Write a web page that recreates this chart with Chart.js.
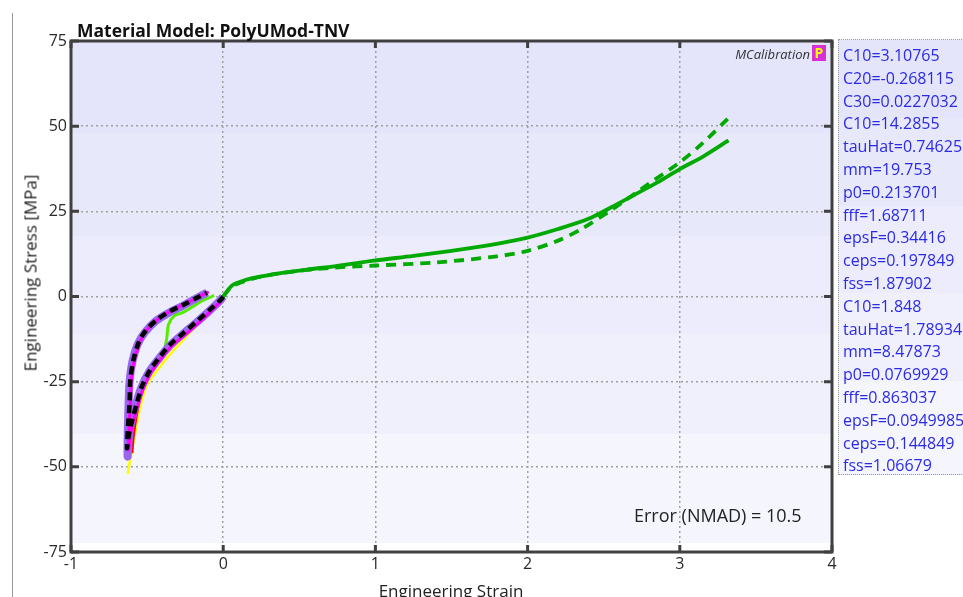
<!DOCTYPE html>
<html><head><meta charset="utf-8">
<script src="https://cdn.jsdelivr.net/npm/chart.js@4.4.0/dist/chart.umd.min.js"></script>
<style>
html,body{margin:0;padding:0;background:#fff;overflow:hidden;}
#wrap{position:relative;width:963px;height:597px;font-family:"Open Sans",sans-serif;}
canvas{position:absolute;left:0;top:0;}
.txt{position:absolute;white-space:nowrap;}
#vline{position:absolute;left:12px;top:13px;width:1px;height:584px;background:#999;}
#title{left:77px;top:18px;font-weight:bold;font-size:17.5px;color:#111;}
#ytitle{left:30px;top:273px;font-size:17px;color:#222;transform:translate(-50%,-50%) rotate(-90deg);}
#xtitle{left:451px;top:579px;font-size:17px;color:#222;transform:translateX(-50%);}
#err{left:634px;top:503px;font-size:18px;color:#222;}
#logo{right:153px;top:45px;font-size:13px;font-style:italic;color:#333;}
#pbox{position:absolute;left:812px;top:45px;width:14px;height:16px;background:#d630d6;color:#ffff00;font-weight:bold;font-size:14px;line-height:16px;text-align:center;font-family:"Open Sans",sans-serif;}
#params{position:absolute;left:838px;top:39px;width:130px;height:436px;box-sizing:border-box;padding-top:4px;border-left:1px dotted #999;border-top:1px dotted #999;border-bottom:1px dotted #999;
background:linear-gradient(#e4e4fa 0px,#e4e4fa 78px,#e8e8fb 78px,#e8e8fb 166px,#ececfc 166px,#ececfc 253px,#f0f0fd 253px,#f0f0fd 341px,#f5f5fe 341px,#f5f5fe 436px);}
#params div{font-size:16px;color:#2a2ae6;height:22.8px;line-height:22.8px;padding-left:4px;}
</style></head>
<body><div id="wrap">
<canvas id="c" width="963" height="597"></canvas>
<div id="vline"></div>
<div class="txt" id="title">Material Model: PolyUMod-TNV</div>
<div class="txt" id="ytitle">Engineering Stress [MPa]</div>
<div class="txt" id="xtitle">Engineering Strain</div>
<div class="txt" id="err">Error (NMAD) = 10.5</div>
<div class="txt" id="logo">MCalibration</div>
<div id="pbox">P</div>
<div id="params"></div>
</div>
<script>
// ---- data ----
const paramLabels = ["C10=3.10765","C20=-0.268115","C30=0.0227032","C10=14.2855","tauHat=0.74625","mm=19.753","p0=0.213701","fff=1.68711","epsF=0.34416","ceps=0.197849","fss=1.87902","C10=1.848","tauHat=1.78934","mm=8.47873","p0=0.0769929","fff=0.863037","epsF=0.0949985","ceps=0.144849","fss=1.06679"];
const xTicks = [-1, 0, 1, 2, 3, 4];
const yTicks = [-75, -50, -25, 0, 25, 50, 75];

const tensionExpStrain = [0, 0.06, 0.15, 0.25, 0.4, 0.55, 0.75, 1.0, 1.25, 1.5, 1.75, 2.0, 2.2, 2.4, 2.55, 2.7, 2.85, 3.0, 3.15, 3.32];
const tensionExpStress = [0, 3.3, 4.9, 5.9, 7.0, 7.9, 9.0, 10.6, 11.9, 13.4, 15.1, 17.3, 19.8, 22.8, 26.2, 29.8, 33.4, 37.4, 41.0, 45.8];
const tensionModelStrain = [0, 0.06, 0.2, 0.4, 0.7, 1.0, 1.4, 1.8, 2.0, 2.2, 2.35, 2.55, 2.8, 3.0, 3.15, 3.32];
const tensionModelStress = [0, 3.0, 5.3, 7.0, 8.4, 9.1, 10.0, 11.8, 13.4, 16.4, 19.7, 25.4, 33.2, 39.4, 45.0, 52.4];

const cycleExpStrain = [0, -0.02, -0.09, -0.18, -0.27, -0.355, -0.42, -0.485, -0.54, -0.574, -0.605, -0.62, -0.628, -0.627, -0.622, -0.615, -0.596, -0.562, -0.516, -0.44, -0.35, -0.26, -0.175, -0.105];
const cycleExpStress = [0, -1.2, -4.2, -7.8, -11.2, -14.6, -18.1, -22.0, -26.9, -31.8, -37.2, -41.6, -47, -40, -32, -25, -19, -14, -10.6, -7.1, -4.6, -2.6, -0.5, 1.2];
const cycleExp2Strain = [0, -0.01, -0.08, -0.165, -0.25, -0.34, -0.405, -0.47, -0.525, -0.56, -0.593, -0.613, -0.622, -0.618, -0.61, -0.603, -0.582, -0.548, -0.505, -0.428, -0.34, -0.252, -0.165, -0.095];
const cycleExp2Stress = [0, -1.0, -4.2, -7.8, -11.2, -14.6, -18.1, -22.0, -26.9, -31.8, -37.2, -41.6, -45, -38, -31, -24, -18.3, -13.4, -10.0, -6.6, -4.1, -2.2, -0.2, 1.4];
const cycleModelStrain = [0, -0.01, -0.085, -0.173, -0.26, -0.348, -0.414, -0.479, -0.534, -0.567, -0.6, -0.622, -0.632, -0.625, -0.615, -0.61, -0.589, -0.556, -0.512, -0.435, -0.348, -0.26, -0.173, -0.107];
const cycleModelStress = [0, -0.7, -3.8, -7.3, -10.7, -14.1, -17.6, -21.5, -26.4, -31.3, -36.7, -41.1, -44.5, -38, -31.3, -24.4, -18.5, -13.6, -10.2, -6.8, -4.3, -2.4, -0.4, 1.1];
const redStrain = [0, -0.05, -0.15, -0.25, -0.35, -0.43, -0.5, -0.545, -0.575, -0.592, -0.6];
const redStress = [0, -2.2, -6.6, -11.0, -15.3, -19.4, -24, -29.5, -36, -41.5, -46];
const yellowStrain = [0, -0.05, -0.15, -0.25, -0.35, -0.43, -0.5, -0.545, -0.578, -0.605, -0.628];
const yellowStress = [0, -2.6, -7.3, -12.2, -17.0, -21.5, -26, -32.5, -40, -46.5, -52];
const limeStrain = [0, -0.05, -0.15, -0.25, -0.33, -0.38, -0.37, -0.359, -0.32, -0.26, -0.2, -0.151, -0.1, -0.06];
const limeStress = [0, -1.9, -6.0, -10.4, -13.8, -15.6, -12, -8.2, -5.6, -4.6, -3.0, -1.6, -0.5, 0.3];

// ---- build ----
const pEl = document.getElementById('params');
paramLabels.forEach(t => { const d = document.createElement('div'); d.textContent = t; pEl.appendChild(d); });

function pts(xs, ys) { return xs.map((x, i) => ({x: x, y: ys[i]})); }
function ds(xs, ys, color, width, dash, order) {
  return {data: pts(xs, ys), borderColor: color, borderWidth: width, borderDash: dash || [], showLine: true,
    pointRadius: 0, fill: false, tension: 0.3, order: order, borderCapStyle: 'butt', borderJoinStyle: 'round'};
}

const bands = [[41,133,'#e4e4fa'],[133,236,'#e8e8fb'],[236,334,'#ececfc'],[334,434,'#f0f0fd'],[434,543,'#f5f5fe'],[543,552,'#ffffff']];

const framePlugin = {
  id: 'frame',
  beforeDraw(chart) {
    const {ctx, chartArea: a, scales: {y}} = chart;
    ctx.save();
    const t = y.getPixelForValue(75), b = y.getPixelForValue(-75);
    const k = (b - t) / 511;
    bands.forEach(([y0, y1, c]) => { ctx.fillStyle = c; ctx.fillRect(a.left, t + (y0 - 41) * k, a.right - a.left, (y1 - y0) * k); });
    ctx.restore();
  },
  afterDraw(chart) {
    const {ctx, chartArea: a, scales: {x, y}} = chart;
    ctx.save();
    ctx.strokeStyle = '#404040'; ctx.lineWidth = 3;
    ctx.strokeRect(a.left, a.top, a.right - a.left, a.bottom - a.top);
    ctx.beginPath();
    xTicks.forEach(v => { const px = x.getPixelForValue(v); ctx.moveTo(px, a.bottom); ctx.lineTo(px, a.bottom - 7); ctx.moveTo(px, a.top); ctx.lineTo(px, a.top + 7); });
    yTicks.forEach(v => { const py = y.getPixelForValue(v); ctx.moveTo(a.left, py); ctx.lineTo(a.left + 8, py); ctx.moveTo(a.right, py); ctx.lineTo(a.right - 8, py); });
    ctx.stroke();
    ctx.restore();
  }
};

new Chart(document.getElementById('c'), {
  type: 'scatter',
  data: {datasets: [
    ds(yellowStrain, yellowStress, '#ffff00', 2.5, null, 9),
    ds(redStrain, redStress, '#ff0000', 3, null, 8),
    ds(limeStrain, limeStress, '#55ee00', 3, null, 7),
    ds(cycleExpStrain, cycleExpStress, '#9966ee', 8, null, 6),
    ds(cycleExp2Strain, cycleExp2Stress, '#ff00ff', 3, null, 5),
    ds(cycleModelStrain, cycleModelStress, '#000000', 4.5, [8, 5], 4),
    ds(tensionModelStrain, tensionModelStress, '#00aa00', 3.8, [10, 7], 3),
    ds(tensionExpStrain, tensionExpStress, '#00aa00', 3.8, null, 2)
  ]},
  options: {
    responsive: false, animation: false, events: [],
    layout: {padding: {left: 20, top: 41, right: 131, bottom: 0}},
    plugins: {legend: {display: false}, tooltip: {enabled: false}},
    scales: {
      x: {type: 'linear', min: -1, max: 4, afterBuildTicks: s => { s.ticks = xTicks.map(v => ({value: v})); },
        afterFit: s => { s.height = 45; },
        ticks: {font: {family: 'Open Sans', size: 16}, color: '#2a2a2a', padding: 3, maxRotation: 0},
        grid: {color: '#a0a0a0', lineWidth: 1.5, drawTicks: false},
        border: {display: false, dash: [2, 3]}},
      y: {type: 'linear', min: -75, max: 75, afterBuildTicks: s => { s.ticks = yTicks.map(v => ({value: v})); },
        afterFit: s => { s.width = 51; },
        ticks: {font: {family: 'Open Sans', size: 16}, color: '#2a2a2a', padding: 4},
        grid: {color: '#a0a0a0', lineWidth: 1.5, drawTicks: false},
        border: {display: false, dash: [2, 3]}}
    }
  },
  plugins: [framePlugin]
});
</script>
</body></html>
